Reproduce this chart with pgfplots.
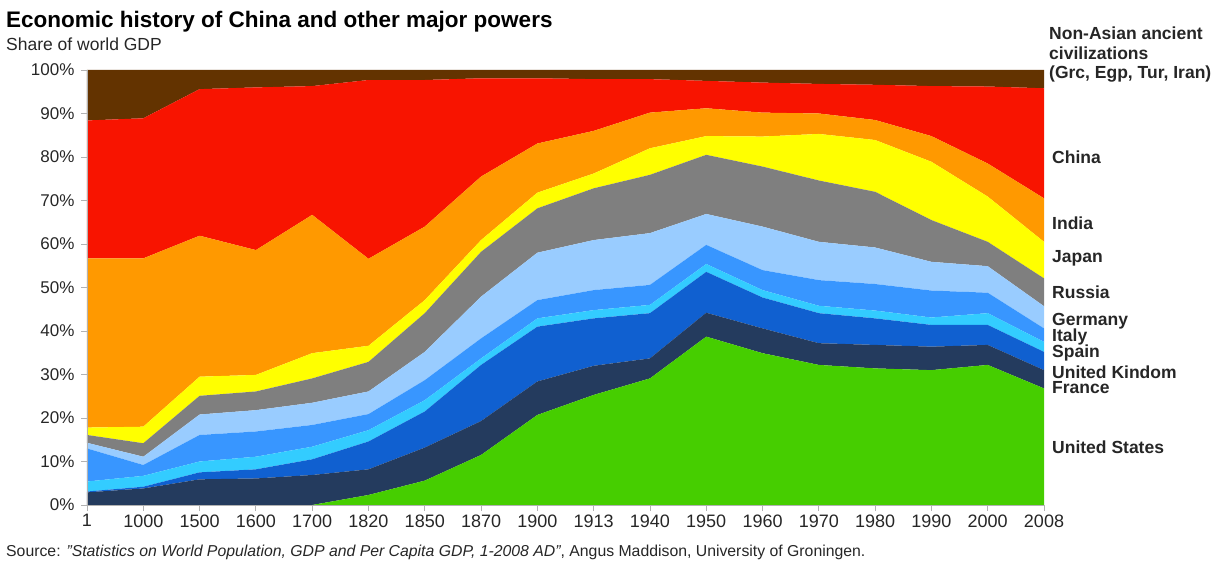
\documentclass[border=0pt]{standalone}
\usepackage{fontspec}
\setmainfont{Liberation Sans}
\usepackage{pgfplots}
\pgfplotsset{compat=1.18}
\usepackage{pgfplotstable}

\definecolor{cNA}{RGB}{99,51,0}
\definecolor{cCN}{RGB}{248,20,0}
\definecolor{cIN}{RGB}{255,153,0}
\definecolor{cJP}{RGB}{255,255,0}
\definecolor{cRU}{RGB}{127,127,127}
\definecolor{cDE}{RGB}{153,204,255}
\definecolor{cIT}{RGB}{56,150,255}
\definecolor{cES}{RGB}{51,204,255}
\definecolor{cUK}{RGB}{16,96,208}
\definecolor{cFR}{RGB}{36,59,94}
\definecolor{cUS}{RGB}{70,206,0}

% shares of world GDP (%)
\pgfplotstableread{
i  US   FR  UK   ES  IT  DE   RU   JP   IN   CN   NA
0  0.0  2.9 0.2  2.3 7.6 1.3  1.8  1.7  38.9 31.7 11.6
1  0.0  3.8 0.4  2.5 2.5 1.9  3.1  3.8  38.7 32.2 11.1
2  0.0  5.9 1.6  2.5 6.1 4.7  4.3  4.4  32.4 33.7 4.4
3  0.0  6.1 2.1  2.9 5.8 4.9  4.3  3.8  28.7 37.4 4.0
4  0.0  6.9 3.6  2.9 5.0 5.1  5.6  5.8  31.8 29.6 3.7
5  2.3  5.9 6.4  2.6 3.7 5.2  6.8  3.7  20.0 41.1 2.3
6  5.6  7.6 8.3  2.6 4.6 6.5  8.9  3.0  16.9 33.7 2.3
7  11.5 7.8 12.9 1.5 4.6 9.6  10.3 2.7  14.6 22.6 1.9
8  20.7 7.7 12.6 1.9 4.2 10.9 10.2 3.6  11.3 15.0 1.9
9  25.3 6.7 10.9 1.9 4.6 11.5 11.9 3.4  9.8  11.9 2.1
10 29.1 4.6 10.4 1.9 4.6 11.9 13.4 6.1  8.2  7.7  2.1
11 38.7 5.5 9.4  1.8 4.4 7.1  13.6 4.3  6.4  6.3  2.5
12 34.9 5.7 7.1  1.7 4.6 10.0 13.8 6.9  5.5  6.9  2.9
13 32.2 5.0 6.9  1.7 5.9 8.8  14.1 10.7 4.7  6.8  3.2
14 31.4 5.4 6.1  1.8 6.1 8.4  12.8 11.9 4.6  8.1  3.4
15 31.0 5.4 5.0  1.7 6.2 6.6  9.6  13.4 5.9  11.5 3.7
16 32.2 4.6 4.6  2.7 4.7 6.1  5.6  10.4 7.6  17.7 3.8
17 26.8 4.2 4.2  2.3 3.1 5.1  6.4  8.4  10.0 25.3 4.2
}\data

\begin{document}
\begin{tikzpicture}
\useasboundingbox (0,0) rectangle (1229pt,563pt);
\begin{axis}[
  at={(87pt,58pt)}, anchor=south west,
  scale only axis, width=957pt, height=435pt,
  xmin=0, xmax=17, ymin=0, ymax=100,
  stack plots=y,
  axis x line*=bottom, axis y line*=left,
  axis line style={gray!60, line width=0.8pt},
  tick style={gray!60, line width=0.8pt},
  major tick length=6pt, tick align=outside,
  axis on top,
  xtick={0,...,17},
  xticklabels={1,1000,1500,1600,1700,1820,1850,1870,1900,1913,1940,1950,1960,1970,1980,1990,2000,2008},
  ytick={0,10,...,100},
  yticklabel={\pgfmathprintnumber{\tick}\%},
  /pgf/number format/assume math mode=true,
  ticklabel style={font=\fontsize{17}{17}\selectfont, text=black!85},
  yticklabel style={xshift=-3pt},
  xticklabel style={font=\fontsize{18}{18}\selectfont},
]
\addplot[fill=cUS, draw=none] table[x=i, y=US] {\data} \closedcycle;
\addplot[fill=cFR, draw=none] table[x=i, y=FR] {\data} \closedcycle;
\addplot[fill=cUK, draw=none] table[x=i, y=UK] {\data} \closedcycle;
\addplot[fill=cES, draw=none] table[x=i, y=ES] {\data} \closedcycle;
\addplot[fill=cIT, draw=none] table[x=i, y=IT] {\data} \closedcycle;
\addplot[fill=cDE, draw=none] table[x=i, y=DE] {\data} \closedcycle;
\addplot[fill=cRU, draw=none] table[x=i, y=RU] {\data} \closedcycle;
\addplot[fill=cJP, draw=none] table[x=i, y=JP] {\data} \closedcycle;
\addplot[fill=cIN, draw=none] table[x=i, y=IN] {\data} \closedcycle;
\addplot[fill=cCN, draw=none] table[x=i, y=CN] {\data} \closedcycle;
\addplot[fill=cNA, draw=none] table[x=i, y=NA] {\data} \closedcycle;
\end{axis}

\node[anchor=base west, inner sep=0pt, font=\fontsize{22.5}{22.5}\selectfont\bfseries] at (6pt,535pt) {Economic history of China and other major powers};
\node[anchor=base west, inner sep=0pt, font=\fontsize{17.5}{17.5}\selectfont, text=black!85] at (6pt,512pt) {Share of world GDP};

\begin{scope}[every node/.style={anchor=west, inner sep=0pt, font=\fontsize{17.5}{17.5}\selectfont\bfseries, text=black!85}]
\node at (1049pt,530pt) {Non-Asian ancient};
\node at (1049pt,510pt) {civilizations};
\node at (1049pt,489pt) {(Grc, Egp, Tur, Iran)};
\node at (1052pt,406pt) {China};
\node at (1052pt,340pt) {India};
\node at (1052pt,305pt) {Japan};
\node at (1052pt,271pt) {Russia};
\node at (1052pt,242pt) {Germany};
\node at (1052pt,226pt) {Italy};
\node at (1052pt,210pt) {Spain};
\node at (1052pt,191pt) {United Kindom};
\node at (1052pt,175pt) {France};
\node at (1052pt,116pt) {United States};
\end{scope}

\node[anchor=base west, inner sep=0pt, font=\fontsize{15.8}{15.8}\selectfont, text=black!85] at (6pt,7pt) {Source: \textit{"Statistics on World Population, GDP and Per Capita GDP, 1-2008 AD"}, Angus Maddison, University of Groningen.};
\end{tikzpicture}
\end{document}
